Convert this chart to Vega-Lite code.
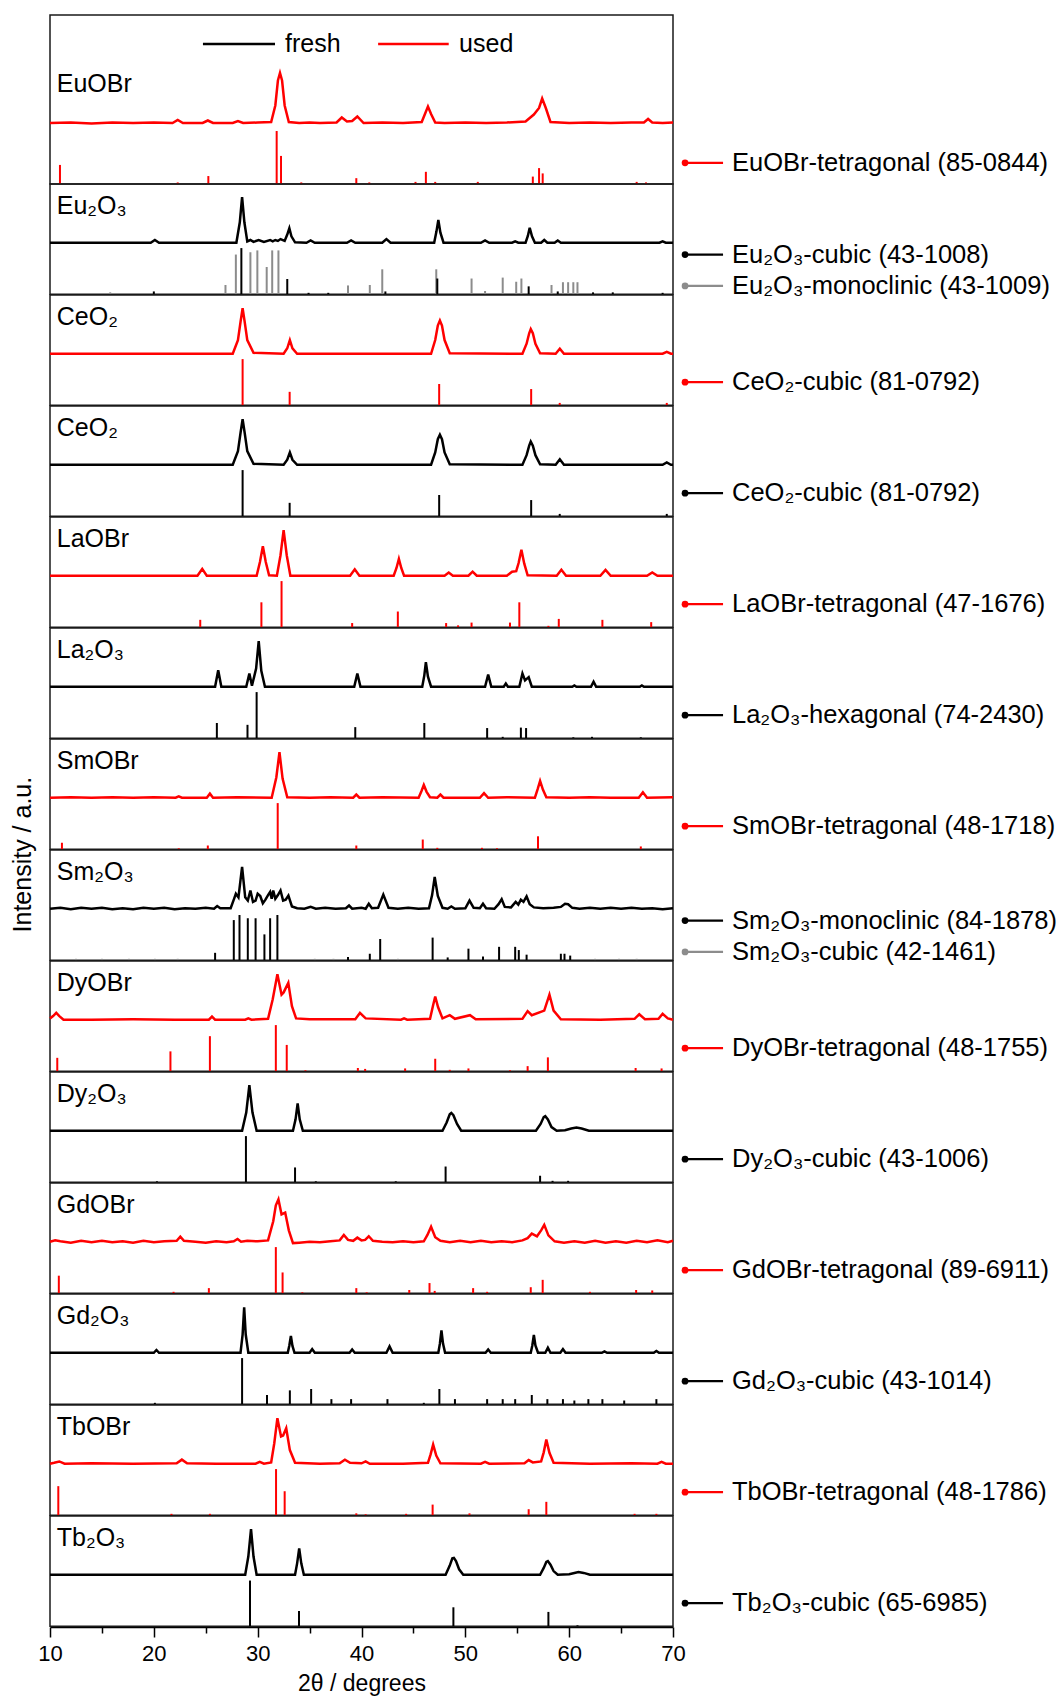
{
"$schema":"https://vega.github.io/schema/vega-lite/v6.json",
"padding":{"left":10,"top":14,"right":0,"bottom":4},
"title":{"text":"Intensity / a.u.","orient":"left","anchor":"middle","fontSize":25,"font":"Liberation Sans","fontWeight":"normal","color":"#000","offset":2},
"datasets":{
"panels":[{"p":1,"g":"used"},{"p":2,"g":"fresh"},{"p":3,"g":"used"},{"p":4,"g":"fresh"},{"p":5,"g":"used"},{"p":6,"g":"fresh"},{"p":7,"g":"used"},{"p":8,"g":"fresh"},{"p":9,"g":"used"},{"p":10,"g":"fresh"},{"p":11,"g":"used"},{"p":12,"g":"fresh"},{"p":13,"g":"used"},{"p":14,"g":"fresh"}],
"xrd":[
{"p":1,"name":"EuOBr"},{"p":1,"ref":"EuOBr-tetragonal (85-0844)","slot":"m"},
{"p":2,"name":"Eu₂O₃"},{"p":2,"ref":"Eu₂O₃-cubic (43-1008)","slot":"hi"},{"p":2,"ref":"Eu₂O₃-monoclinic (43-1009)","slot":"lo","alt":true},
{"p":3,"name":"CeO₂"},{"p":3,"ref":"CeO₂-cubic (81-0792)","slot":"m"},
{"p":4,"name":"CeO₂"},{"p":4,"ref":"CeO₂-cubic (81-0792)","slot":"m"},
{"p":5,"name":"LaOBr"},{"p":5,"ref":"LaOBr-tetragonal (47-1676)","slot":"m"},
{"p":6,"name":"La₂O₃"},{"p":6,"ref":"La₂O₃-hexagonal (74-2430)","slot":"m"},
{"p":7,"name":"SmOBr"},{"p":7,"ref":"SmOBr-tetragonal (48-1718)","slot":"m"},
{"p":8,"name":"Sm₂O₃"},{"p":8,"ref":"Sm₂O₃-monoclinic (84-1878)","slot":"hi"},{"p":8,"ref":"Sm₂O₃-cubic (42-1461)","slot":"lo","alt":true},
{"p":9,"name":"DyOBr"},{"p":9,"ref":"DyOBr-tetragonal (48-1755)","slot":"m"},
{"p":10,"name":"Dy₂O₃"},{"p":10,"ref":"Dy₂O₃-cubic (43-1006)","slot":"m"},
{"p":11,"name":"GdOBr"},{"p":11,"ref":"GdOBr-tetragonal (89-6911)","slot":"m"},
{"p":12,"name":"Gd₂O₃"},{"p":12,"ref":"Gd₂O₃-cubic (43-1014)","slot":"m"},
{"p":13,"name":"TbOBr"},{"p":13,"ref":"TbOBr-tetragonal (48-1786)","slot":"m"},
{"p":14,"name":"Tb₂O₃"},{"p":14,"ref":"Tb₂O₃-cubic (65-6985)","slot":"m"},

{"p":1,"x":10,"y":0},{"p":1,"x":12,"y":1},{"p":1,"x":14,"y":-1},{"p":1,"x":16,"y":1},{"p":1,"x":18,"y":0},{"p":1,"x":20,"y":1},{"p":1,"x":21.8,"y":0},{"p":1,"x":22.3,"y":6},{"p":1,"x":22.8,"y":0},{"p":1,"x":24.7,"y":0},{"p":1,"x":25.2,"y":5},{"p":1,"x":25.7,"y":0},{"p":1,"x":27.6,"y":0},{"p":1,"x":28.1,"y":4},{"p":1,"x":28.6,"y":0},{"p":1,"x":30,"y":1},{"p":1,"x":31.3,"y":2},{"p":1,"x":31.7,"y":35},{"p":1,"x":31.95,"y":85},{"p":1,"x":32.15,"y":100},{"p":1,"x":32.35,"y":85},{"p":1,"x":32.6,"y":35},{"p":1,"x":33,"y":2},{"p":1,"x":34,"y":0},{"p":1,"x":35,"y":1},{"p":1,"x":36,"y":0},{"p":1,"x":37.6,"y":1},{"p":1,"x":38.1,"y":11},{"p":1,"x":38.6,"y":3},{"p":1,"x":39.1,"y":4},{"p":1,"x":39.6,"y":13},{"p":1,"x":40.2,"y":0},{"p":1,"x":42,"y":1},{"p":1,"x":44,"y":0},{"p":1,"x":45.8,"y":2},{"p":1,"x":46.15,"y":20},{"p":1,"x":46.4,"y":33},{"p":1,"x":46.7,"y":18},{"p":1,"x":47.1,"y":1},{"p":1,"x":48,"y":0},{"p":1,"x":50,"y":1},{"p":1,"x":52,"y":0},{"p":1,"x":54,"y":1},{"p":1,"x":55.8,"y":3},{"p":1,"x":56.6,"y":17},{"p":1,"x":57.1,"y":30},{"p":1,"x":57.4,"y":49},{"p":1,"x":57.75,"y":30},{"p":1,"x":58.2,"y":2},{"p":1,"x":60,"y":0},{"p":1,"x":62,"y":1},{"p":1,"x":64,"y":0},{"p":1,"x":66,"y":1},{"p":1,"x":67.2,"y":1},{"p":1,"x":67.6,"y":8},{"p":1,"x":68,"y":1},{"p":1,"x":69,"y":0},{"p":1,"x":70,"y":1},

{"p":2,"x":10,"y":0},{"p":2,"x":15,"y":0},{"p":2,"x":19.7,"y":0},{"p":2,"x":20.1,"y":6},{"p":2,"x":20.5,"y":0},{"p":2,"x":27.95,"y":0},{"p":2,"x":28.28,"y":45},{"p":2,"x":28.5,"y":100},{"p":2,"x":28.72,"y":45},{"p":2,"x":29,"y":3},{"p":2,"x":29.3,"y":6},{"p":2,"x":29.6,"y":2},{"p":2,"x":30.1,"y":6},{"p":2,"x":30.6,"y":2},{"p":2,"x":31.2,"y":6},{"p":2,"x":31.45,"y":3},{"p":2,"x":31.7,"y":6},{"p":2,"x":31.95,"y":4},{"p":2,"x":32.2,"y":8},{"p":2,"x":32.6,"y":4},{"p":2,"x":32.85,"y":18},{"p":2,"x":33.05,"y":32},{"p":2,"x":33.25,"y":14},{"p":2,"x":33.6,"y":1},{"p":2,"x":34.7,"y":0},{"p":2,"x":35.1,"y":5},{"p":2,"x":35.5,"y":0},{"p":2,"x":38.6,"y":0},{"p":2,"x":39,"y":5},{"p":2,"x":39.4,"y":0},{"p":2,"x":42,"y":0},{"p":2,"x":42.4,"y":8},{"p":2,"x":42.8,"y":0},{"p":2,"x":47,"y":0},{"p":2,"x":47.22,"y":25},{"p":2,"x":47.4,"y":50},{"p":2,"x":47.6,"y":22},{"p":2,"x":47.9,"y":0},{"p":2,"x":51.5,"y":0},{"p":2,"x":51.9,"y":5},{"p":2,"x":52.3,"y":0},{"p":2,"x":54.5,"y":0},{"p":2,"x":54.8,"y":3},{"p":2,"x":55.1,"y":0},{"p":2,"x":55.8,"y":0},{"p":2,"x":56.02,"y":15},{"p":2,"x":56.2,"y":33},{"p":2,"x":56.42,"y":14},{"p":2,"x":56.7,"y":0},{"p":2,"x":57.3,"y":0},{"p":2,"x":57.6,"y":6},{"p":2,"x":57.9,"y":0},{"p":2,"x":58.6,"y":0},{"p":2,"x":58.9,"y":5},{"p":2,"x":59.2,"y":0},{"p":2,"x":68.7,"y":0},{"p":2,"x":69,"y":3},{"p":2,"x":69.3,"y":0},{"p":2,"x":70,"y":0},

{"p":3,"x":10,"y":0},{"p":3,"x":27.6,"y":0},{"p":3,"x":28.1,"y":30},{"p":3,"x":28.35,"y":70},{"p":3,"x":28.55,"y":100},{"p":3,"x":28.75,"y":70},{"p":3,"x":29,"y":30},{"p":3,"x":29.6,"y":2},{"p":3,"x":32.5,"y":0},{"p":3,"x":32.85,"y":12},{"p":3,"x":33.1,"y":30},{"p":3,"x":33.35,"y":12},{"p":3,"x":33.8,"y":0},{"p":3,"x":46.7,"y":0},{"p":3,"x":47.1,"y":30},{"p":3,"x":47.35,"y":62},{"p":3,"x":47.55,"y":73},{"p":3,"x":47.75,"y":62},{"p":3,"x":48,"y":30},{"p":3,"x":48.5,"y":1},{"p":3,"x":55.5,"y":0},{"p":3,"x":55.9,"y":22},{"p":3,"x":56.15,"y":45},{"p":3,"x":56.3,"y":54},{"p":3,"x":56.5,"y":45},{"p":3,"x":56.75,"y":22},{"p":3,"x":57.2,"y":1},{"p":3,"x":58.7,"y":0},{"p":3,"x":59.1,"y":11},{"p":3,"x":59.5,"y":0},{"p":3,"x":69,"y":0},{"p":3,"x":69.4,"y":4},{"p":3,"x":69.8,"y":0},{"p":3,"x":70,"y":0},

{"p":4,"x":10,"y":0},{"p":4,"x":27.6,"y":0},{"p":4,"x":28.1,"y":30},{"p":4,"x":28.35,"y":70},{"p":4,"x":28.55,"y":100},{"p":4,"x":28.75,"y":70},{"p":4,"x":29,"y":30},{"p":4,"x":29.6,"y":2},{"p":4,"x":32.5,"y":0},{"p":4,"x":32.85,"y":11},{"p":4,"x":33.1,"y":27},{"p":4,"x":33.35,"y":11},{"p":4,"x":33.8,"y":0},{"p":4,"x":46.7,"y":0},{"p":4,"x":47.1,"y":27},{"p":4,"x":47.35,"y":56},{"p":4,"x":47.55,"y":66},{"p":4,"x":47.75,"y":56},{"p":4,"x":48,"y":27},{"p":4,"x":48.5,"y":1},{"p":4,"x":55.5,"y":0},{"p":4,"x":55.9,"y":21},{"p":4,"x":56.15,"y":42},{"p":4,"x":56.3,"y":51},{"p":4,"x":56.5,"y":42},{"p":4,"x":56.75,"y":21},{"p":4,"x":57.2,"y":1},{"p":4,"x":58.7,"y":0},{"p":4,"x":59.1,"y":12},{"p":4,"x":59.5,"y":0},{"p":4,"x":69,"y":0},{"p":4,"x":69.4,"y":5},{"p":4,"x":69.8,"y":0},{"p":4,"x":70,"y":0},

{"p":5,"x":10,"y":0},{"p":5,"x":24.2,"y":0},{"p":5,"x":24.66,"y":15},{"p":5,"x":25.1,"y":0},{"p":5,"x":29.9,"y":0},{"p":5,"x":30.22,"y":30},{"p":5,"x":30.5,"y":65},{"p":5,"x":30.78,"y":30},{"p":5,"x":31.1,"y":1},{"p":5,"x":31.85,"y":0},{"p":5,"x":32.2,"y":45},{"p":5,"x":32.5,"y":100},{"p":5,"x":32.8,"y":45},{"p":5,"x":33.15,"y":0},{"p":5,"x":38.9,"y":0},{"p":5,"x":39.35,"y":14},{"p":5,"x":39.8,"y":0},{"p":5,"x":43.1,"y":0},{"p":5,"x":43.37,"y":17},{"p":5,"x":43.6,"y":37},{"p":5,"x":43.83,"y":17},{"p":5,"x":44.1,"y":0},{"p":5,"x":48,"y":0},{"p":5,"x":48.4,"y":7},{"p":5,"x":48.8,"y":0},{"p":5,"x":50.3,"y":0},{"p":5,"x":50.7,"y":9},{"p":5,"x":51.1,"y":0},{"p":5,"x":54,"y":0},{"p":5,"x":54.5,"y":9},{"p":5,"x":54.9,"y":10},{"p":5,"x":55.13,"y":28},{"p":5,"x":55.4,"y":57},{"p":5,"x":55.67,"y":27},{"p":5,"x":56,"y":1},{"p":5,"x":58.8,"y":0},{"p":5,"x":59.25,"y":13},{"p":5,"x":59.7,"y":0},{"p":5,"x":63,"y":0},{"p":5,"x":63.5,"y":13},{"p":5,"x":64,"y":0},{"p":5,"x":67.5,"y":0},{"p":5,"x":68,"y":7},{"p":5,"x":68.5,"y":0},{"p":5,"x":70,"y":0},

{"p":6,"x":10,"y":0},{"p":6,"x":25.9,"y":0},{"p":6,"x":26.2,"y":36},{"p":6,"x":26.5,"y":0},{"p":6,"x":28.9,"y":0},{"p":6,"x":29.2,"y":29},{"p":6,"x":29.45,"y":2},{"p":6,"x":29.85,"y":40},{"p":6,"x":30.1,"y":100},{"p":6,"x":30.35,"y":35},{"p":6,"x":30.7,"y":0},{"p":6,"x":39.3,"y":0},{"p":6,"x":39.6,"y":29},{"p":6,"x":39.9,"y":0},{"p":6,"x":45.85,"y":0},{"p":6,"x":46.05,"y":25},{"p":6,"x":46.2,"y":54},{"p":6,"x":46.4,"y":22},{"p":6,"x":46.7,"y":0},{"p":6,"x":51.9,"y":0},{"p":6,"x":52.2,"y":27},{"p":6,"x":52.5,"y":0},{"p":6,"x":53.7,"y":0},{"p":6,"x":53.9,"y":7},{"p":6,"x":54.1,"y":0},{"p":6,"x":55.2,"y":0},{"p":6,"x":55.5,"y":29},{"p":6,"x":55.75,"y":14},{"p":6,"x":56.1,"y":21},{"p":6,"x":56.4,"y":0},{"p":6,"x":60.3,"y":0},{"p":6,"x":60.5,"y":3},{"p":6,"x":60.7,"y":0},{"p":6,"x":62.1,"y":0},{"p":6,"x":62.35,"y":11},{"p":6,"x":62.6,"y":0},{"p":6,"x":66.8,"y":0},{"p":6,"x":67,"y":3},{"p":6,"x":67.2,"y":0},{"p":6,"x":70,"y":0},

{"p":7,"x":10,"y":0},{"p":7,"x":12,"y":1},{"p":7,"x":14,"y":0},{"p":7,"x":16,"y":1},{"p":7,"x":18,"y":0},{"p":7,"x":20,"y":1},{"p":7,"x":22.1,"y":0},{"p":7,"x":22.4,"y":3},{"p":7,"x":22.7,"y":0},{"p":7,"x":25.1,"y":0},{"p":7,"x":25.4,"y":9},{"p":7,"x":25.7,"y":0},{"p":7,"x":28,"y":1},{"p":7,"x":31.35,"y":0},{"p":7,"x":31.8,"y":45},{"p":7,"x":32.1,"y":100},{"p":7,"x":32.4,"y":42},{"p":7,"x":32.85,"y":1},{"p":7,"x":35,"y":0},{"p":7,"x":37,"y":1},{"p":7,"x":39.2,"y":0},{"p":7,"x":39.5,"y":7},{"p":7,"x":39.8,"y":0},{"p":7,"x":42,"y":1},{"p":7,"x":45.5,"y":0},{"p":7,"x":45.78,"y":15},{"p":7,"x":46,"y":28},{"p":7,"x":46.27,"y":13},{"p":7,"x":46.6,"y":1},{"p":7,"x":47.3,"y":0},{"p":7,"x":47.6,"y":7},{"p":7,"x":47.9,"y":0},{"p":7,"x":51.4,"y":0},{"p":7,"x":51.8,"y":10},{"p":7,"x":52.2,"y":0},{"p":7,"x":54,"y":1},{"p":7,"x":56.7,"y":0},{"p":7,"x":56.98,"y":20},{"p":7,"x":57.2,"y":37},{"p":7,"x":57.47,"y":18},{"p":7,"x":57.8,"y":1},{"p":7,"x":60,"y":0},{"p":7,"x":62,"y":1},{"p":7,"x":64,"y":0},{"p":7,"x":66.7,"y":0},{"p":7,"x":67.1,"y":12},{"p":7,"x":67.5,"y":0},{"p":7,"x":70,"y":1},

{"p":8,"x":10,"y":0},{"p":8,"x":11,"y":2},{"p":8,"x":12,"y":-1},{"p":8,"x":13,"y":2},{"p":8,"x":14,"y":0},{"p":8,"x":15,"y":2},{"p":8,"x":16,"y":-1},{"p":8,"x":17,"y":1},{"p":8,"x":18,"y":-1},{"p":8,"x":19,"y":2},{"p":8,"x":20,"y":0},{"p":8,"x":21,"y":2},{"p":8,"x":22,"y":-1},{"p":8,"x":23,"y":1},{"p":8,"x":24,"y":0},{"p":8,"x":25,"y":2},{"p":8,"x":25.8,"y":0},{"p":8,"x":26.1,"y":6},{"p":8,"x":26.4,"y":1},{"p":8,"x":27.4,"y":1},{"p":8,"x":27.7,"y":20},{"p":8,"x":27.9,"y":33},{"p":8,"x":28.15,"y":25},{"p":8,"x":28.5,"y":92},{"p":8,"x":28.8,"y":25},{"p":8,"x":29.05,"y":18},{"p":8,"x":29.3,"y":40},{"p":8,"x":29.55,"y":15},{"p":8,"x":29.8,"y":18},{"p":8,"x":30,"y":33},{"p":8,"x":30.25,"y":28},{"p":8,"x":30.5,"y":12},{"p":8,"x":30.75,"y":20},{"p":8,"x":31,"y":30},{"p":8,"x":31.2,"y":37},{"p":8,"x":31.35,"y":22},{"p":8,"x":31.5,"y":40},{"p":8,"x":31.7,"y":22},{"p":8,"x":31.95,"y":30},{"p":8,"x":32.2,"y":40},{"p":8,"x":32.45,"y":18},{"p":8,"x":32.7,"y":20},{"p":8,"x":32.96,"y":29},{"p":8,"x":33.3,"y":5},{"p":8,"x":33.8,"y":1},{"p":8,"x":34.5,"y":0},{"p":8,"x":35.1,"y":4},{"p":8,"x":35.6,"y":0},{"p":8,"x":36.5,"y":2},{"p":8,"x":37.5,"y":0},{"p":8,"x":38.5,"y":1},{"p":8,"x":38.8,"y":7},{"p":8,"x":39.1,"y":0},{"p":8,"x":40,"y":2},{"p":8,"x":40.4,"y":0},{"p":8,"x":40.7,"y":11},{"p":8,"x":41,"y":1},{"p":8,"x":41.6,"y":2},{"p":8,"x":42.1,"y":31},{"p":8,"x":42.6,"y":2},{"p":8,"x":43.5,"y":0},{"p":8,"x":44.5,"y":2},{"p":8,"x":45.5,"y":0},{"p":8,"x":46.5,"y":1},{"p":8,"x":46.8,"y":30},{"p":8,"x":47.05,"y":70},{"p":8,"x":47.35,"y":28},{"p":8,"x":47.8,"y":2},{"p":8,"x":48.3,"y":0},{"p":8,"x":48.65,"y":5},{"p":8,"x":49,"y":0},{"p":8,"x":50,"y":1},{"p":8,"x":50.4,"y":18},{"p":8,"x":50.8,"y":2},{"p":8,"x":51.4,"y":1},{"p":8,"x":51.7,"y":11},{"p":8,"x":52,"y":1},{"p":8,"x":52.8,"y":0},{"p":8,"x":53.2,"y":10},{"p":8,"x":53.5,"y":21},{"p":8,"x":53.8,"y":4},{"p":8,"x":54.4,"y":3},{"p":8,"x":54.85,"y":15},{"p":8,"x":55.1,"y":9},{"p":8,"x":55.35,"y":20},{"p":8,"x":55.6,"y":15},{"p":8,"x":55.9,"y":27},{"p":8,"x":56.2,"y":10},{"p":8,"x":56.6,"y":3},{"p":8,"x":57.5,"y":1},{"p":8,"x":58.5,"y":2},{"p":8,"x":59.2,"y":4},{"p":8,"x":59.6,"y":11},{"p":8,"x":59.9,"y":10},{"p":8,"x":60.3,"y":2},{"p":8,"x":61,"y":0},{"p":8,"x":62,"y":2},{"p":8,"x":63,"y":0},{"p":8,"x":64,"y":2},{"p":8,"x":65,"y":0},{"p":8,"x":66,"y":2},{"p":8,"x":67,"y":0},{"p":8,"x":68,"y":1},{"p":8,"x":69,"y":-1},{"p":8,"x":70,"y":1},

{"p":9,"x":10,"y":3},{"p":9,"x":10.3,"y":8},{"p":9,"x":10.6,"y":15},{"p":9,"x":10.9,"y":8},{"p":9,"x":11.3,"y":0},{"p":9,"x":14,"y":0},{"p":9,"x":18,"y":1},{"p":9,"x":22,"y":0},{"p":9,"x":25.3,"y":0},{"p":9,"x":25.6,"y":7},{"p":9,"x":25.9,"y":0},{"p":9,"x":28.8,"y":0},{"p":9,"x":29.1,"y":3},{"p":9,"x":29.4,"y":0},{"p":9,"x":31,"y":2},{"p":9,"x":31.45,"y":45},{"p":9,"x":31.9,"y":100},{"p":9,"x":32.3,"y":55},{"p":9,"x":32.5,"y":60},{"p":9,"x":32.95,"y":81},{"p":9,"x":33.3,"y":30},{"p":9,"x":33.7,"y":3},{"p":9,"x":35,"y":1},{"p":9,"x":39.4,"y":1},{"p":9,"x":39.85,"y":15},{"p":9,"x":40.4,"y":3},{"p":9,"x":43.8,"y":0},{"p":9,"x":44.1,"y":3},{"p":9,"x":44.4,"y":0},{"p":9,"x":46.6,"y":2},{"p":9,"x":46.88,"y":30},{"p":9,"x":47.1,"y":51},{"p":9,"x":47.37,"y":28},{"p":9,"x":47.8,"y":3},{"p":9,"x":48.5,"y":10},{"p":9,"x":49,"y":2},{"p":9,"x":50.45,"y":10},{"p":9,"x":51,"y":1},{"p":9,"x":55.5,"y":2},{"p":9,"x":56,"y":19},{"p":9,"x":56.4,"y":10},{"p":9,"x":57.6,"y":20},{"p":9,"x":58.1,"y":55},{"p":9,"x":58.5,"y":20},{"p":9,"x":59.2,"y":1},{"p":9,"x":63,"y":0},{"p":9,"x":66.3,"y":2},{"p":9,"x":66.75,"y":12},{"p":9,"x":67.3,"y":1},{"p":9,"x":68.6,"y":2},{"p":9,"x":69,"y":13},{"p":9,"x":69.5,"y":3},{"p":9,"x":70,"y":0},

{"p":10,"x":10,"y":0},{"p":10,"x":28.5,"y":0},{"p":10,"x":28.9,"y":40},{"p":10,"x":29.2,"y":100},{"p":10,"x":29.5,"y":40},{"p":10,"x":29.9,"y":0},{"p":10,"x":33.4,"y":0},{"p":10,"x":33.65,"y":25},{"p":10,"x":33.85,"y":60},{"p":10,"x":34.05,"y":25},{"p":10,"x":34.35,"y":0},{"p":10,"x":47.8,"y":0},{"p":10,"x":48.2,"y":18},{"p":10,"x":48.5,"y":36},{"p":10,"x":48.65,"y":39},{"p":10,"x":48.85,"y":34},{"p":10,"x":49.2,"y":15},{"p":10,"x":49.6,"y":0},{"p":10,"x":56.8,"y":0},{"p":10,"x":57.25,"y":15},{"p":10,"x":57.55,"y":30},{"p":10,"x":57.7,"y":32},{"p":10,"x":57.95,"y":25},{"p":10,"x":58.3,"y":8},{"p":10,"x":58.8,"y":0},{"p":10,"x":59.6,"y":1},{"p":10,"x":60.2,"y":5},{"p":10,"x":60.7,"y":7},{"p":10,"x":61.2,"y":5},{"p":10,"x":61.9,"y":0},{"p":10,"x":70,"y":0},

{"p":11,"x":10,"y":0},{"p":11,"x":10.5,"y":3},{"p":11,"x":11,"y":1},{"p":11,"x":12,"y":-2},{"p":11,"x":13,"y":2},{"p":11,"x":14,"y":-1},{"p":11,"x":15,"y":2},{"p":11,"x":16,"y":-1},{"p":11,"x":17,"y":1},{"p":11,"x":18,"y":-2},{"p":11,"x":19,"y":2},{"p":11,"x":20,"y":-1},{"p":11,"x":21,"y":1},{"p":11,"x":22.2,"y":2},{"p":11,"x":22.55,"y":11},{"p":11,"x":22.9,"y":2},{"p":11,"x":24,"y":0},{"p":11,"x":25,"y":-2},{"p":11,"x":26,"y":1},{"p":11,"x":27,"y":-1},{"p":11,"x":27.7,"y":1},{"p":11,"x":28.06,"y":6},{"p":11,"x":28.4,"y":0},{"p":11,"x":29,"y":2},{"p":11,"x":30,"y":1},{"p":11,"x":31,"y":3},{"p":11,"x":31.5,"y":45},{"p":11,"x":31.75,"y":80},{"p":11,"x":32,"y":93},{"p":11,"x":32.3,"y":60},{"p":11,"x":32.65,"y":64},{"p":11,"x":33,"y":25},{"p":11,"x":33.4,"y":-3},{"p":11,"x":34,"y":-2},{"p":11,"x":35,"y":0},{"p":11,"x":36,"y":-1},{"p":11,"x":37,"y":1},{"p":11,"x":37.9,"y":3},{"p":11,"x":38.3,"y":15},{"p":11,"x":38.7,"y":4},{"p":11,"x":39.2,"y":2},{"p":11,"x":39.6,"y":9},{"p":11,"x":40,"y":3},{"p":11,"x":40.35,"y":4},{"p":11,"x":40.7,"y":12},{"p":11,"x":41.1,"y":2},{"p":11,"x":42,"y":0},{"p":11,"x":43,"y":-1},{"p":11,"x":44,"y":1},{"p":11,"x":45,"y":-1},{"p":11,"x":46,"y":1},{"p":11,"x":46.35,"y":15},{"p":11,"x":46.7,"y":33},{"p":11,"x":47.1,"y":10},{"p":11,"x":47.6,"y":2},{"p":11,"x":48.5,"y":-1},{"p":11,"x":49.5,"y":2},{"p":11,"x":50.5,"y":-1},{"p":11,"x":51.5,"y":2},{"p":11,"x":52.5,"y":-1},{"p":11,"x":53.5,"y":1},{"p":11,"x":54.5,"y":-1},{"p":11,"x":55.5,"y":3},{"p":11,"x":56,"y":8},{"p":11,"x":56.4,"y":18},{"p":11,"x":56.9,"y":12},{"p":11,"x":57.3,"y":25},{"p":11,"x":57.6,"y":37},{"p":11,"x":58,"y":14},{"p":11,"x":58.6,"y":1},{"p":11,"x":59.5,"y":-2},{"p":11,"x":60.5,"y":1},{"p":11,"x":61.5,"y":-2},{"p":11,"x":62.5,"y":2},{"p":11,"x":63.5,"y":-2},{"p":11,"x":64.5,"y":1},{"p":11,"x":65.5,"y":-2},{"p":11,"x":66.5,"y":2},{"p":11,"x":67.5,"y":-1},{"p":11,"x":68.5,"y":3},{"p":11,"x":69.5,"y":-1},{"p":11,"x":70,"y":2},

{"p":12,"x":10,"y":0},{"p":12,"x":20,"y":0},{"p":12,"x":20.25,"y":6},{"p":12,"x":20.5,"y":0},{"p":12,"x":28.35,"y":0},{"p":12,"x":28.55,"y":40},{"p":12,"x":28.7,"y":100},{"p":12,"x":28.85,"y":40},{"p":12,"x":29.1,"y":0},{"p":12,"x":32.9,"y":0},{"p":12,"x":33.05,"y":16},{"p":12,"x":33.2,"y":37},{"p":12,"x":33.35,"y":15},{"p":12,"x":33.55,"y":0},{"p":12,"x":35,"y":0},{"p":12,"x":35.25,"y":8},{"p":12,"x":35.5,"y":0},{"p":12,"x":38.85,"y":0},{"p":12,"x":39.1,"y":7},{"p":12,"x":39.35,"y":0},{"p":12,"x":42.4,"y":0},{"p":12,"x":42.7,"y":14},{"p":12,"x":43,"y":0},{"p":12,"x":47.4,"y":0},{"p":12,"x":47.55,"y":20},{"p":12,"x":47.7,"y":49},{"p":12,"x":47.85,"y":20},{"p":12,"x":48.05,"y":0},{"p":12,"x":51.95,"y":0},{"p":12,"x":52.2,"y":7},{"p":12,"x":52.45,"y":0},{"p":12,"x":56.3,"y":0},{"p":12,"x":56.45,"y":16},{"p":12,"x":56.6,"y":39},{"p":12,"x":56.75,"y":16},{"p":12,"x":57,"y":0},{"p":12,"x":57.7,"y":0},{"p":12,"x":57.95,"y":11},{"p":12,"x":58.2,"y":0},{"p":12,"x":59.15,"y":0},{"p":12,"x":59.4,"y":8},{"p":12,"x":59.65,"y":0},{"p":12,"x":63.15,"y":0},{"p":12,"x":63.4,"y":3},{"p":12,"x":63.65,"y":0},{"p":12,"x":68.15,"y":0},{"p":12,"x":68.4,"y":4},{"p":12,"x":68.65,"y":0},{"p":12,"x":70,"y":0},

{"p":13,"x":10,"y":0},{"p":13,"x":10.4,"y":2},{"p":13,"x":10.9,"y":5},{"p":13,"x":11.4,"y":0},{"p":13,"x":14,"y":1},{"p":13,"x":18,"y":0},{"p":13,"x":22.2,"y":1},{"p":13,"x":22.7,"y":9},{"p":13,"x":23.2,"y":1},{"p":13,"x":26,"y":0},{"p":13,"x":29.8,"y":0},{"p":13,"x":30.2,"y":4},{"p":13,"x":30.6,"y":0},{"p":13,"x":31.3,"y":3},{"p":13,"x":31.6,"y":45},{"p":13,"x":31.9,"y":100},{"p":13,"x":32.25,"y":60},{"p":13,"x":32.45,"y":62},{"p":13,"x":32.75,"y":78},{"p":13,"x":33.1,"y":30},{"p":13,"x":33.6,"y":2},{"p":13,"x":36,"y":0},{"p":13,"x":37.9,"y":1},{"p":13,"x":38.4,"y":9},{"p":13,"x":38.9,"y":2},{"p":13,"x":40,"y":1},{"p":13,"x":40.4,"y":5},{"p":13,"x":40.8,"y":0},{"p":13,"x":44,"y":0},{"p":13,"x":46.4,"y":2},{"p":13,"x":46.65,"y":20},{"p":13,"x":46.9,"y":42},{"p":13,"x":47.2,"y":18},{"p":13,"x":47.6,"y":1},{"p":13,"x":51.5,"y":0},{"p":13,"x":51.9,"y":4},{"p":13,"x":52.3,"y":0},{"p":13,"x":55.7,"y":1},{"p":13,"x":56.1,"y":8},{"p":13,"x":56.5,"y":3},{"p":13,"x":57.3,"y":5},{"p":13,"x":57.55,"y":25},{"p":13,"x":57.8,"y":53},{"p":13,"x":58.1,"y":24},{"p":13,"x":58.5,"y":2},{"p":13,"x":62,"y":0},{"p":13,"x":66,"y":1},{"p":13,"x":68.5,"y":0},{"p":13,"x":68.9,"y":4},{"p":13,"x":69.3,"y":0},{"p":13,"x":70,"y":0},

{"p":14,"x":10,"y":0},{"p":14,"x":28.8,"y":0},{"p":14,"x":29.1,"y":40},{"p":14,"x":29.36,"y":100},{"p":14,"x":29.6,"y":40},{"p":14,"x":29.9,"y":0},{"p":14,"x":33.6,"y":0},{"p":14,"x":33.8,"y":25},{"p":14,"x":34,"y":58},{"p":14,"x":34.2,"y":25},{"p":14,"x":34.45,"y":0},{"p":14,"x":48.1,"y":0},{"p":14,"x":48.5,"y":20},{"p":14,"x":48.75,"y":36},{"p":14,"x":48.9,"y":37},{"p":14,"x":49.1,"y":30},{"p":14,"x":49.4,"y":12},{"p":14,"x":49.8,"y":0},{"p":14,"x":57.2,"y":0},{"p":14,"x":57.55,"y":15},{"p":14,"x":57.8,"y":28},{"p":14,"x":57.95,"y":30},{"p":14,"x":58.2,"y":22},{"p":14,"x":58.5,"y":8},{"p":14,"x":58.9,"y":0},{"p":14,"x":60,"y":1},{"p":14,"x":60.5,"y":4},{"p":14,"x":60.9,"y":6},{"p":14,"x":61.4,"y":4},{"p":14,"x":62,"y":0},{"p":14,"x":70,"y":0},

{"p":1,"x":10.96,"h":36},{"p":1,"x":22.3,"h":3},{"p":1,"x":25.25,"h":15},{"p":1,"x":31.83,"h":100},{"p":1,"x":32.25,"h":53},{"p":1,"x":34.2,"h":3},{"p":1,"x":39.5,"h":11},{"p":1,"x":40.75,"h":3},{"p":1,"x":45.2,"h":4},{"p":1,"x":46.2,"h":23},{"p":1,"x":47.1,"h":4},{"p":1,"x":51.2,"h":4},{"p":1,"x":56.5,"h":14},{"p":1,"x":57.1,"h":30},{"p":1,"x":57.45,"h":20},{"p":1,"x":66.5,"h":4},{"p":1,"x":67.4,"h":3},

{"p":2,"x":15.8,"h":4,"alt":true},{"p":2,"x":26.9,"h":20,"alt":true},{"p":2,"x":27.9,"h":86,"alt":true},{"p":2,"x":29.3,"h":91,"alt":true},{"p":2,"x":29.97,"h":95,"alt":true},{"p":2,"x":30.87,"h":59,"alt":true},{"p":2,"x":31.4,"h":95,"alt":true},{"p":2,"x":32,"h":95,"alt":true},{"p":2,"x":38.7,"h":19,"alt":true},{"p":2,"x":40.8,"h":20,"alt":true},{"p":2,"x":42,"h":54,"alt":true},{"p":2,"x":47.2,"h":54,"alt":true},{"p":2,"x":50.6,"h":34,"alt":true},{"p":2,"x":51.9,"h":7,"alt":true},{"p":2,"x":53.6,"h":36,"alt":true},{"p":2,"x":54.9,"h":27,"alt":true},{"p":2,"x":55.4,"h":34,"alt":true},{"p":2,"x":58.3,"h":20,"alt":true},{"p":2,"x":59.4,"h":26,"alt":true},{"p":2,"x":59.9,"h":26,"alt":true},{"p":2,"x":60.4,"h":26,"alt":true},{"p":2,"x":60.8,"h":26,"alt":true},
{"p":2,"x":20,"h":6},{"p":2,"x":28.43,"h":100},{"p":2,"x":32.85,"h":33},{"p":2,"x":34.9,"h":3},{"p":2,"x":36.8,"h":3},{"p":2,"x":42.3,"h":6},{"p":2,"x":47.3,"h":34},{"p":2,"x":56.1,"h":17},{"p":2,"x":58.9,"h":6},{"p":2,"x":62.3,"h":4},{"p":2,"x":64.2,"h":4},{"p":2,"x":69,"h":3},

{"p":3,"x":28.55,"h":100},{"p":3,"x":33.08,"h":29},{"p":3,"x":47.48,"h":46},{"p":3,"x":56.34,"h":35},{"p":3,"x":59.09,"h":5},{"p":3,"x":69.4,"h":5},
{"p":4,"x":28.55,"h":100},{"p":4,"x":33.08,"h":29},{"p":4,"x":47.48,"h":46},{"p":4,"x":56.34,"h":35},{"p":4,"x":59.09,"h":5},{"p":4,"x":69.4,"h":5},

{"p":5,"x":24.47,"h":16},{"p":5,"x":30.36,"h":54},{"p":5,"x":32.3,"h":100},{"p":5,"x":39.1,"h":9},{"p":5,"x":43.5,"h":34},{"p":5,"x":48.15,"h":9},{"p":5,"x":49.3,"h":4},{"p":5,"x":50.6,"h":10},{"p":5,"x":54.3,"h":10},{"p":5,"x":55.2,"h":54},{"p":5,"x":58,"h":3},{"p":5,"x":59,"h":18},{"p":5,"x":63.2,"h":16},{"p":5,"x":67.9,"h":11},

{"p":6,"x":26.07,"h":33},{"p":6,"x":29.02,"h":29},{"p":6,"x":29.9,"h":100},{"p":6,"x":39.4,"h":24},{"p":6,"x":46.05,"h":33},{"p":6,"x":52.1,"h":22},{"p":6,"x":53.6,"h":3},{"p":6,"x":55.35,"h":23},{"p":6,"x":55.85,"h":22},{"p":6,"x":60.4,"h":2},{"p":6,"x":62.2,"h":3},{"p":6,"x":66.9,"h":2},

{"p":7,"x":11.15,"h":14},{"p":7,"x":22.4,"h":2},{"p":7,"x":25.2,"h":8},{"p":7,"x":31.93,"h":100},{"p":7,"x":39.5,"h":8},{"p":7,"x":45.9,"h":21},{"p":7,"x":47.3,"h":3},{"p":7,"x":51.6,"h":3},{"p":7,"x":53.05,"h":2},{"p":7,"x":57,"h":28},{"p":7,"x":66.9,"h":6},

{"p":8,"x":12.5,"h":3,"alt":true},{"p":8,"x":15,"h":3,"alt":true},{"p":8,"x":17.6,"h":3,"alt":true},{"p":8,"x":20.1,"h":3,"alt":true},{"p":8,"x":22.3,"h":3,"alt":true},{"p":8,"x":35.5,"h":3,"alt":true},{"p":8,"x":37.3,"h":3,"alt":true},{"p":8,"x":43.5,"h":3,"alt":true},{"p":8,"x":62.5,"h":3,"alt":true},{"p":8,"x":64.8,"h":3,"alt":true},{"p":8,"x":66.5,"h":3,"alt":true},
{"p":8,"x":25.9,"h":16},{"p":8,"x":27.7,"h":87},{"p":8,"x":28.25,"h":98},{"p":8,"x":29.05,"h":91},{"p":8,"x":29.8,"h":91},{"p":8,"x":30.65,"h":56},{"p":8,"x":31.2,"h":91},{"p":8,"x":31.9,"h":98},{"p":8,"x":38.7,"h":7},{"p":8,"x":40.8,"h":14},{"p":8,"x":41.8,"h":46},{"p":8,"x":46.85,"h":49},{"p":8,"x":48.3,"h":6},{"p":8,"x":50.3,"h":25},{"p":8,"x":51.7,"h":8},{"p":8,"x":53.25,"h":29},{"p":8,"x":54.8,"h":29},{"p":8,"x":55.15,"h":22},{"p":8,"x":55.9,"h":12},{"p":8,"x":59.2,"h":14},{"p":8,"x":59.55,"h":14},{"p":8,"x":60.1,"h":10},

{"p":9,"x":10.7,"h":29},{"p":9,"x":21.6,"h":43},{"p":9,"x":25.4,"h":76},{"p":9,"x":31.75,"h":100},{"p":9,"x":32.8,"h":57},{"p":9,"x":34.6,"h":2},{"p":9,"x":39.65,"h":7},{"p":9,"x":40.35,"h":5},{"p":9,"x":44.2,"h":6},{"p":9,"x":47.1,"h":27},{"p":9,"x":48.5,"h":3},{"p":9,"x":50.3,"h":6},{"p":9,"x":54.3,"h":2},{"p":9,"x":56,"h":11},{"p":9,"x":57.95,"h":30},{"p":9,"x":66.4,"h":7},{"p":9,"x":68.9,"h":6},

{"p":10,"x":20.3,"h":2},{"p":10,"x":28.87,"h":100},{"p":10,"x":33.6,"h":32},{"p":10,"x":35.6,"h":2},{"p":10,"x":43.3,"h":2},{"p":10,"x":48.1,"h":34},{"p":10,"x":57.2,"h":14},{"p":10,"x":58.4,"h":3},{"p":10,"x":59.9,"h":3},

{"p":11,"x":10.85,"h":38},{"p":11,"x":21.9,"h":3},{"p":11,"x":25.3,"h":11},{"p":11,"x":31.75,"h":100},{"p":11,"x":32.4,"h":45},{"p":11,"x":34.3,"h":2},{"p":11,"x":39.5,"h":11},{"p":11,"x":40.5,"h":2},{"p":11,"x":44.6,"h":7},{"p":11,"x":46.55,"h":22},{"p":11,"x":47.05,"h":5},{"p":11,"x":50.75,"h":11},{"p":11,"x":52.1,"h":3},{"p":11,"x":56.3,"h":13},{"p":11,"x":57.45,"h":29},{"p":11,"x":62,"h":3},{"p":11,"x":66.45,"h":7},{"p":11,"x":68,"h":6},

{"p":12,"x":20.1,"h":3},{"p":12,"x":28.5,"h":100},{"p":12,"x":30.9,"h":20},{"p":12,"x":33.1,"h":30},{"p":12,"x":35.15,"h":33},{"p":12,"x":37.1,"h":11},{"p":12,"x":39,"h":11},{"p":12,"x":42.5,"h":11},{"p":12,"x":46,"h":3},{"p":12,"x":47.5,"h":33},{"p":12,"x":49,"h":11},{"p":12,"x":52.1,"h":11},{"p":12,"x":53.6,"h":11},{"p":12,"x":54.8,"h":11},{"p":12,"x":56.4,"h":20},{"p":12,"x":57.9,"h":11},{"p":12,"x":59.4,"h":11},{"p":12,"x":60.5,"h":8},{"p":12,"x":61.85,"h":11},{"p":12,"x":63.2,"h":11},{"p":12,"x":65.3,"h":8},{"p":12,"x":68.4,"h":11},

{"p":13,"x":10.8,"h":63},{"p":13,"x":21.7,"h":3},{"p":13,"x":25.4,"h":3},{"p":13,"x":31.77,"h":100},{"p":13,"x":32.6,"h":52},{"p":13,"x":39.5,"h":4},{"p":13,"x":40.4,"h":2},{"p":13,"x":44.3,"h":3},{"p":13,"x":46.85,"h":23},{"p":13,"x":50.4,"h":4},{"p":13,"x":56.1,"h":13},{"p":13,"x":57.8,"h":29},{"p":13,"x":66.3,"h":3},{"p":13,"x":68.4,"h":3},

{"p":14,"x":29.26,"h":99},{"p":14,"x":33.98,"h":33},{"p":14,"x":48.85,"h":41},{"p":14,"x":58,"h":31},{"p":14,"x":60.8,"h":2}
]},
"data":{"name":"xrd"},
"transform":[{"lookup":"p","from":{"data":{"name":"panels"},"key":"p","fields":["g"]}}],
"spacing":0,
"bounds":"flush",
"vconcat":[
{
"width":623,"height":169,
"transform":[{"filter":"datum.p == 1"}],
"resolve":{"scale":{"y":"independent"}},
"layer":[
{"transform":[{"filter":"isValid(datum.y)"}],"mark":{"type":"line","strokeWidth":2.5},
 "encoding":{"x":{"field":"x","type":"quantitative","scale":{"domain":[10,70],"nice":false,"zero":false},"axis":null},
 "y":{"field":"y","type":"quantitative","scale":{"domain":[-122,216],"nice":false,"zero":false},"axis":null},
 "color":{"field":"g","type":"nominal","scale":{"domain":["used","fresh"],"range":["#ff0000","#000000"]},"legend":null}}},
{"transform":[{"filter":"isValid(datum.h)"}],"mark":{"type":"rule","strokeWidth":2},
 "encoding":{"x":{"field":"x","type":"quantitative","axis":null},
 "y":{"field":"h","type":"quantitative","scale":{"domain":[0,319],"nice":false,"zero":false},"axis":null},"y2":{"datum":0},
 "color":{"condition":{"test":"datum.alt === true","value":"#8c8c8c"},"field":"g","type":"nominal","legend":null}}},
{"transform":[{"filter":"isValid(datum.name)"}],
 "encoding":{"y":{"datum":158,"type":"quantitative","scale":{"domain":[-122,216],"nice":false,"zero":false},"axis":null}},
 "layer":[
 {"mark":{"type":"rule","strokeWidth":2.5,"color":"#000"},"encoding":{"x":{"datum":24.73,"type":"quantitative","axis":null},"x2":{"datum":31.67}}},
 {"mark":{"type":"text","align":"left","baseline":"middle","fontSize":25,"color":"#000"},"encoding":{"x":{"datum":32.63,"type":"quantitative","axis":null},"text":{"value":"fresh"}}},
 {"mark":{"type":"rule","strokeWidth":2.5,"color":"#ff0000"},"encoding":{"x":{"datum":41.6,"type":"quantitative","axis":null},"x2":{"datum":48.4}}},
 {"mark":{"type":"text","align":"left","baseline":"middle","fontSize":25,"color":"#000"},"encoding":{"x":{"datum":49.4,"type":"quantitative","axis":null},"text":{"value":"used"}}}
 ]},
{"transform":[{"filter":"isValid(datum.name)"}],"mark":{"type":"text","align":"left","baseline":"alphabetic","fontSize":25,"color":"#000"},
 "encoding":{"x":{"datum":10.65,"type":"quantitative","axis":null},"y":{"datum":62,"type":"quantitative","scale":{"domain":[-122,216],"nice":false,"zero":false},"axis":null},"text":{"field":"name"}}},
{"transform":[{"filter":"isValid(datum.ref)"}],
 "encoding":{"y":{"datum":40,"type":"quantitative","scale":{"domain":[0,319],"nice":false,"zero":false},"axis":null},
 "color":{"condition":{"test":"datum.alt === true","value":"#8c8c8c"},"field":"g","type":"nominal","legend":null}},
 "layer":[
 {"mark":{"type":"point","filled":true,"size":45,"opacity":1},"encoding":{"x":{"datum":71.16,"type":"quantitative","axis":null}}},
 {"mark":{"type":"rule","strokeWidth":2.2},"encoding":{"x":{"datum":71.16,"type":"quantitative","axis":null},"x2":{"datum":74.82}}},
 {"mark":{"type":"text","align":"left","baseline":"middle","fontSize":25.5},"encoding":{"x":{"datum":75.68,"type":"quantitative","axis":null},"text":{"field":"ref"},"color":{"value":"#000"}}}
 ]}
]
},
{
"transform":[{"filter":"datum.p >= 2"}],
"facet":{"row":{"field":"p","type":"ordinal","title":null,"header":{"labels":false,"title":null}}},
"spacing":{"row":0},
"bounds":"flush",
"spec":{
"width":623,"height":110.2,
"resolve":{"scale":{"y":"independent"}},
"layer":[
{"transform":[{"filter":"isValid(datum.y)"}],"mark":{"type":"line","strokeWidth":2.5},
 "encoding":{"x":{"field":"x","type":"quantitative","scale":{"domain":[10,70],"nice":false,"zero":false},
   "axis":{"title":"2θ / degrees","values":[10,15,20,25,30,35,40,45,50,55,60,65,70],"labelExpr":"datum.value % 10 === 0 ? datum.label : ''","labelOverlap":false,"labelFlush":false,
   "tickSize":{"condition":{"test":"datum.value % 10 === 0","value":10},"value":6},"tickColor":"#000","tickWidth":1.5,"domainColor":"#000","domainWidth":1.5,
   "labelFontSize":22,"labelColor":"#000","labelPadding":6,"titleFontSize":23,"titleFontWeight":"normal","titleColor":"#000","titlePadding":8,"grid":false}},
 "y":{"field":"y","type":"quantitative","scale":{"domain":[-113,129],"nice":false,"zero":false},"axis":null},
 "color":{"field":"g","type":"nominal","scale":{"domain":["used","fresh"],"range":["#ff0000","#000000"]},"legend":null}}},
{"transform":[{"filter":"isValid(datum.h)"}],"mark":{"type":"rule","strokeWidth":2},
 "encoding":{"x":{"field":"x","type":"quantitative"},
 "y":{"field":"h","type":"quantitative","scale":{"domain":[0,239],"nice":false,"zero":false},"axis":null},"y2":{"datum":0},
 "color":{"condition":{"test":"datum.alt === true","value":"#8c8c8c"},"field":"g","type":"nominal","legend":null}}},
{"transform":[{"filter":"isValid(datum.name)"}],"mark":{"type":"text","align":"left","baseline":"alphabetic","fontSize":25,"color":"#000"},
 "encoding":{"x":{"datum":10.65,"type":"quantitative"},"y":{"datum":63,"type":"quantitative","scale":{"domain":[-113,129],"nice":false,"zero":false},"axis":null},"text":{"field":"name"}}},
{"transform":[{"filter":"isValid(datum.ref) && datum.slot === 'm'"}],
 "encoding":{"y":{"datum":50,"type":"quantitative","scale":{"domain":[0,239],"nice":false,"zero":false},"axis":null},
 "color":{"condition":{"test":"datum.alt === true","value":"#8c8c8c"},"field":"g","type":"nominal","legend":null}},
 "layer":[
 {"mark":{"type":"point","filled":true,"size":45,"opacity":1},"encoding":{"x":{"datum":71.16,"type":"quantitative"}}},
 {"mark":{"type":"rule","strokeWidth":2.2},"encoding":{"x":{"datum":71.16,"type":"quantitative"},"x2":{"datum":74.82}}},
 {"mark":{"type":"text","align":"left","baseline":"middle","fontSize":25.5},"encoding":{"x":{"datum":75.68,"type":"quantitative"},"text":{"field":"ref"},"color":{"value":"#000"}}}
 ]},
{"transform":[{"filter":"isValid(datum.ref) && datum.slot === 'hi'"}],
 "encoding":{"y":{"datum":86,"type":"quantitative","scale":{"domain":[0,239],"nice":false,"zero":false},"axis":null},
 "color":{"condition":{"test":"datum.alt === true","value":"#8c8c8c"},"field":"g","type":"nominal","legend":null}},
 "layer":[
 {"mark":{"type":"point","filled":true,"size":45,"opacity":1},"encoding":{"x":{"datum":71.16,"type":"quantitative"}}},
 {"mark":{"type":"rule","strokeWidth":2.2},"encoding":{"x":{"datum":71.16,"type":"quantitative"},"x2":{"datum":74.82}}},
 {"mark":{"type":"text","align":"left","baseline":"middle","fontSize":25.5},"encoding":{"x":{"datum":75.68,"type":"quantitative"},"text":{"field":"ref"},"color":{"value":"#000"}}}
 ]},
{"transform":[{"filter":"isValid(datum.ref) && datum.slot === 'lo'"}],
 "encoding":{"y":{"datum":18,"type":"quantitative","scale":{"domain":[0,239],"nice":false,"zero":false},"axis":null},
 "color":{"condition":{"test":"datum.alt === true","value":"#8c8c8c"},"field":"g","type":"nominal","legend":null}},
 "layer":[
 {"mark":{"type":"point","filled":true,"size":45,"opacity":1},"encoding":{"x":{"datum":71.16,"type":"quantitative"}}},
 {"mark":{"type":"rule","strokeWidth":2.2},"encoding":{"x":{"datum":71.16,"type":"quantitative"},"x2":{"datum":74.82}}},
 {"mark":{"type":"text","align":"left","baseline":"middle","fontSize":25.5},"encoding":{"x":{"datum":75.68,"type":"quantitative"},"text":{"field":"ref"},"color":{"value":"#000"}}}
 ]}
]
}
}
],
"config":{
"font":"Liberation Sans",
"view":{"stroke":"#1a1a1a","strokeWidth":1.5},
"text":{"font":"Liberation Sans"},
"axis":{"labelFont":"Liberation Sans","titleFont":"Liberation Sans"}
}
}
